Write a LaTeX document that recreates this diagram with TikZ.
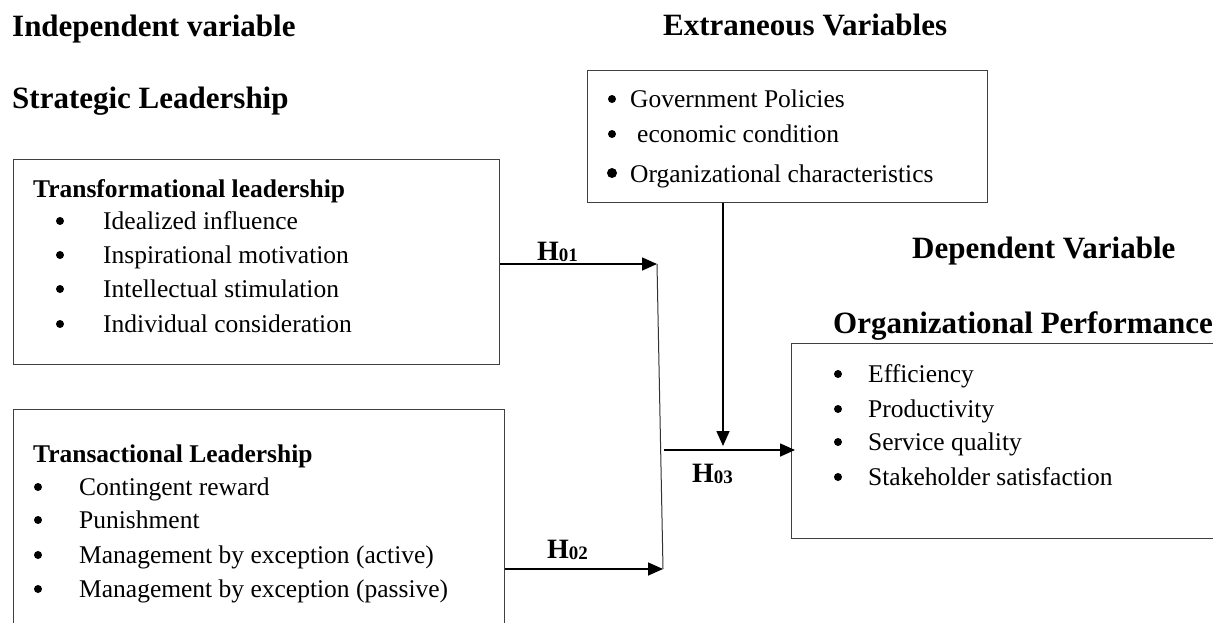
\documentclass[tikz,border=0pt]{standalone}
\usepackage{fontspec}
\setmainfont{Liberation Serif}
\usetikzlibrary{arrows.meta}

\newcommand{\hyplabel}[1]{H{\fontsize{19}{19}\selectfont\raisebox{-1.5pt}{#1}}}

\begin{document}
\begin{tikzpicture}[x=1pt, y=-1pt,
    box/.style={draw=black!75, line width=1.4pt, inner sep=0, anchor=north west},
    head/.style={anchor=base west, inner sep=0, font=\fontsize{31}{36}\selectfont\bfseries},
    title/.style={anchor=base west, inner sep=0, font=\fontsize{25.5}{30}\selectfont\bfseries},
    item/.style={anchor=base west, inner sep=0, font=\fontsize{25.5}{30}\selectfont},
    dot/.style={circle, fill, inner sep=0, minimum size=8pt},
    hyp/.style={anchor=base west, inner sep=0, font=\fontsize{28}{30}\selectfont\bfseries},
    arr/.style={-{Triangle[length=15pt, width=13pt]}, line width=1.6pt}]
    \path[use as bounding box, clip] (0, 0) rectangle (1213, 622);

    % headings
    \node[head] (indep) at (12, 36) {Independent variable};
    \node[head] (strat) at (12, 108) {Strategic Leadership};
    \node[head] (extra) at (663, 35) {Extraneous Variables};
    \node[head] (depen) at (912, 258) {Dependent Variable};
    \node[head] (orgperf) at (833, 333) {Organizational Performance};

    % boxes
    \node[box, minimum width=486pt, minimum height=205pt] (tfl) at (13, 159) {};
    \node[box, minimum width=491pt, minimum height=240pt] (tal) at (13, 409) {};
    \node[box, minimum width=400pt, minimum height=132pt] (ext) at (587, 70) {};
    \node[box, minimum width=440pt, minimum height=195pt] (dv) at (791, 343) {};

    % transformational leadership
    \node[title] (tfltitle) at (33, 197) {Transformational leadership};
    \foreach \y/\txt in {229/Idealized influence, 263/Inspirational motivation,
        297/Intellectual stimulation, 332/Individual consideration} {
      \node[dot] at (60, \y-8) {};
      \node[item] at (103, \y) {\txt};
    }

    % transactional leadership
    \node[title] (taltitle) at (33, 462) {Transactional Leadership};
    \foreach \y/\txt in {495/Contingent reward, 528/Punishment,
        563/Management by exception (active), 597/Management by exception (passive)} {
      \node[dot] at (38, \y-8) {};
      \node[item] at (79, \y) {\txt};
    }

    % extraneous variables
    \node[dot] at (612, 99) {};
    \node[item] (gov) at (630, 107) {Government Policies};
    \node[dot] at (612, 134) {};
    \node[item] (econ) at (637, 142) {economic condition};
    \node[dot, minimum size=10pt] at (612, 173) {};
    \node[item] (orgchar) at (630, 182) {Organizational characteristics};

    % organizational performance
    \foreach \y/\txt in {382/Efficiency, 417/Productivity,
        450/Service quality, 485/Stakeholder satisfaction} {
      \node[dot] at (838, \y-8) {};
      \node[item] at (868, \y) {\txt};
    }

    % connectors
    \coordinate (j1) at (657, 264);
    \coordinate (j2) at (663, 569);
    \coordinate (j3) at (664, 450);
    \coordinate (j4) at (723, 446);
    \draw[arr] (tfl.east |- j1) -- (j1);
    \draw[arr] (tal.east |- j2) -- (j2);
    \draw[line width=1pt, black!80] (j1) -- (j2);
    \draw[arr] (ext.south -| j4) -- (j4);
    \draw[arr] (j3) -- ([xshift=4pt]dv.west |- j3);

    \node[hyp] (h1) at (537, 260) {\hyplabel{01}};
    \node[hyp] (h2) at (547, 558) {\hyplabel{02}};
    \node[hyp] (h3) at (692, 482) {\hyplabel{03}};
\end{tikzpicture}
\end{document}
